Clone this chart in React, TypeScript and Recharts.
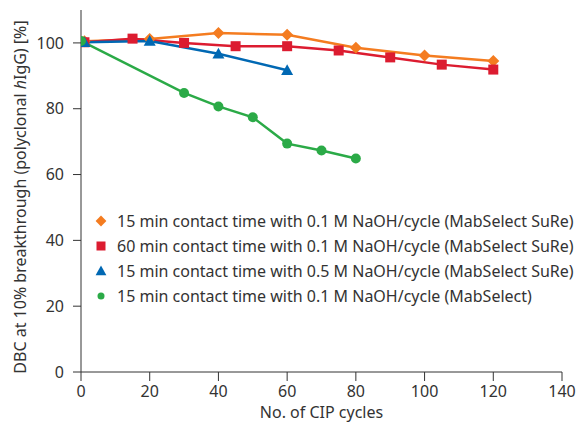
import React from "react";
import { LineChart, Line, XAxis, YAxis } from "recharts";

const orangeX = [1, 20, 40, 60, 80, 100, 120];
const orangeY = [100.5, 101.2, 103, 102.5, 98.5, 96.2, 94.5];
const redX = [1, 15, 30, 45, 60, 75, 90, 105, 120];
const redY = [100.2, 101.3, 100, 99, 99, 97.7, 95.6, 93.4, 91.9];
const blueX = [1, 20, 40, 60];
const blueY = [100.2, 100.6, 96.7, 91.7];
const greenX = [0, 30, 40, 50, 60, 70, 80];
const greenY = [100.6, 84.8, 80.7, 77.4, 69.4, 67.3, 64.9];

const xTicks = [0, 20, 40, 60, 80, 100, 120, 140];
const yTicks = [0, 20, 40, 60, 80, 100];

const seriesNames = [
  "15 min contact time with 0.1 M NaOH/cycle (MabSelect SuRe)",
  "60 min contact time with 0.1 M NaOH/cycle (MabSelect SuRe)",
  "15 min contact time with 0.5 M NaOH/cycle (MabSelect SuRe)",
  "15 min contact time with 0.1 M NaOH/cycle (MabSelect)",
];

const COLORS = ["#F47C20", "#DC1C30", "#0068B3", "#2BAA47"];
const SHAPES = ["diamond", "square", "triangle", "circle"];
const FONT = "'Noto Sans', sans-serif";
const TEXT = "#333333";
const FS = 16;

const toPts = (xs: number[], ys: number[]) => xs.map((x, i) => ({ x, y: ys[i] }));
const orangeData = toPts(orangeX, orangeY);
const redData = toPts(redX, redY);
const blueData = toPts(blueX, blueY);
const greenData = toPts(greenX, greenY);

function Marker({ shape, cx, cy, color, s = 1 }: any) {
  if (cx == null || cy == null) return null;
  if (shape === "diamond") {
    const r = 6 * s;
    return <polygon points={`${cx},${cy - r} ${cx + r},${cy} ${cx},${cy + r} ${cx - r},${cy}`} fill={color} />;
  }
  if (shape === "square") {
    const h = 5 * s;
    return <rect x={cx - h} y={cy - h} width={2 * h} height={2 * h} fill={color} />;
  }
  if (shape === "triangle") {
    const h = 6 * s;
    return <polygon points={`${cx},${cy - h} ${cx + h},${cy + h * 0.8} ${cx - h},${cy + h * 0.8}`} fill={color} />;
  }
  return <circle cx={cx} cy={cy} r={5 * s} fill={color} />;
}

const makeDot = (i: number) => (props: any) => (
  <Marker key={`${i}-${props.index}`} shape={SHAPES[i]} cx={props.cx} cy={props.cy} color={COLORS[i]} />
);

function LegendBox() {
  return (
    <div style={{ position: "absolute", left: 93, top: 208, fontFamily: FONT, fontSize: FS, color: TEXT }}>
      {seriesNames.map((n, i) => (
        <div key={n} style={{ display: "flex", alignItems: "center", height: 25 }}>
          <svg width={16} height={16} style={{ marginRight: 8 }}>
            <Marker shape={SHAPES[i]} cx={8} cy={8} color={COLORS[i]} s={i === 3 ? 0.7 : 0.9} />
          </svg>
          <span style={{ whiteSpace: "nowrap" }}>{n}</span>
        </div>
      ))}
    </div>
  );
}

function YLabel() {
  return (
    <text
      x={20}
      y={197}
      transform="rotate(-90 20 197)"
      textAnchor="middle"
      dominantBaseline="central"
      fill={TEXT}
      fontSize={FS}
      fontFamily={FONT}
    >
      DBC at 10% breakthrough (polyclonal <tspan fontStyle="italic">h</tspan>IgG) [%]
    </text>
  );
}

export default function App() {
  const tick = { fill: TEXT, fontSize: FS, fontFamily: FONT };
  return (
    <div style={{ position: "absolute", left: 0, top: 0, width: 580, height: 424, background: "#fff" }}>
      <LineChart width={580} height={424} margin={{ top: 10, right: 18, left: 0, bottom: 0 }}>
        <XAxis
          type="number"
          dataKey="x"
          domain={[0, 140]}
          ticks={xTicks}
          tick={tick}
          tickSize={9}
          tickMargin={5}
          height={52}
          stroke="#333"
          allowDataOverflow
          label={{ value: "No. of CIP cycles", position: "insideBottom", offset: 6, fill: TEXT, fontSize: FS, fontFamily: FONT }}
        />
        <YAxis
          type="number"
          dataKey="y"
          domain={[0, 110]}
          ticks={yTicks}
          tick={tick}
          tickSize={8}
          tickMargin={9}
          width={81}
          stroke="#333"
          allowDataOverflow
        />
        <Line data={orangeData} dataKey="y" name={seriesNames[0]} stroke={COLORS[0]} strokeWidth={2.5} dot={makeDot(0)} isAnimationActive={false} />
        <Line data={redData} dataKey="y" name={seriesNames[1]} stroke={COLORS[1]} strokeWidth={2.5} dot={makeDot(1)} isAnimationActive={false} />
        <Line data={blueData} dataKey="y" name={seriesNames[2]} stroke={COLORS[2]} strokeWidth={2.5} dot={makeDot(2)} isAnimationActive={false} />
        <Line data={greenData} dataKey="y" name={seriesNames[3]} stroke={COLORS[3]} strokeWidth={2.5} dot={makeDot(3)} isAnimationActive={false} />
        <YLabel />
      </LineChart>
      <LegendBox />
    </div>
  );
}
